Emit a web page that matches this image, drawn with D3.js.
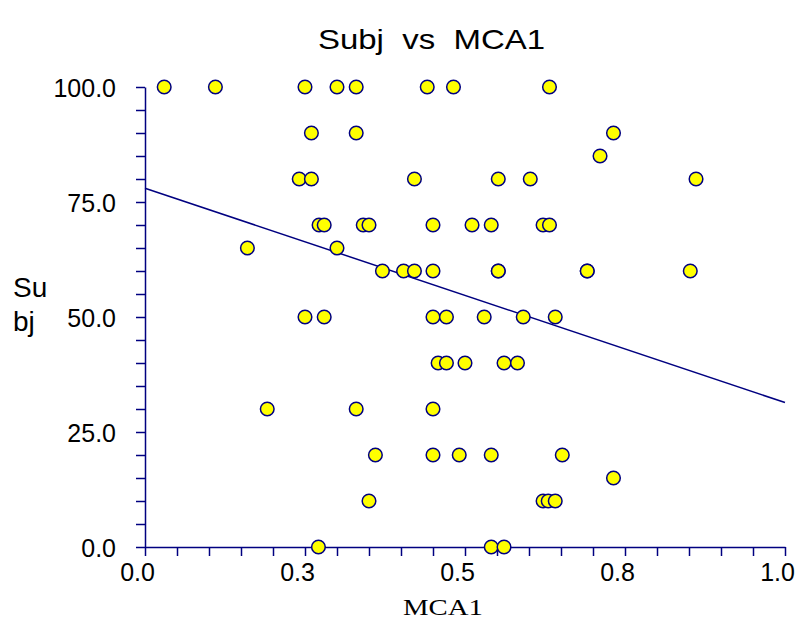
<!DOCTYPE html>
<html>
<head>
<meta charset="utf-8">
<title>Subj vs MCA1</title>
<script src="https://cdn.jsdelivr.net/npm/d3@7"></script>
<style>
body { margin: 0; background: #fff; }
.axis path, .axis line { stroke: #000080; stroke-width: 1.5px; fill: none; }
.axis text { font-family: "Liberation Sans", Arial, sans-serif; font-size: 25px; fill: #000; }
.dot { fill: #ffff00; stroke: #000080; stroke-width: 1.5px; }
</style>
</head>
<body>
<script>
// values
var mca1 = [0.030, 0.110, 0.250, 0.300, 0.330, 0.441, 0.482, 0.632,
  0.260, 0.330, 0.732,
  0.711,
  0.241, 0.260, 0.421, 0.552, 0.602, 0.861,
  0.272, 0.280, 0.341, 0.350, 0.450, 0.511, 0.541, 0.622, 0.632,
  0.160, 0.300,
  0.371, 0.404, 0.421, 0.450, 0.552, 0.552, 0.691, 0.691, 0.852,
  0.250, 0.280, 0.450, 0.471, 0.530, 0.591, 0.641,
  0.458, 0.471, 0.500, 0.561, 0.582,
  0.191, 0.330, 0.450,
  0.360, 0.450, 0.491, 0.541, 0.652,
  0.732,
  0.350, 0.622, 0.630, 0.641,
  0.271, 0.541, 0.561];
var subj = [100, 100, 100, 100, 100, 100, 100, 100,
  90, 90, 90,
  85,
  80, 80, 80, 80, 80, 80,
  70, 70, 70, 70, 70, 70, 70, 70, 70,
  65, 65,
  60, 60, 60, 60, 60, 60, 60, 60, 60,
  50, 50, 50, 50, 50, 50, 50,
  40, 40, 40, 40, 40,
  30, 30, 30,
  20, 20, 20, 20, 20,
  15,
  10, 10, 10, 10,
  0, 0, 0];
var fitLine = [[0, 78.0], [1, 31.4]];
var xTicks = d3.range(0, 21).map(function(i) { return i * 0.05; });
var yTicks = d3.range(0, 21).map(function(i) { return i * 5; });

var margin = { top: 87, right: 16, bottom: 74, left: 145 };
var width = 801 - margin.left - margin.right;
var height = 621 - margin.top - margin.bottom;

var svg = d3.select("body").append("svg")
    .attr("width", 801)
    .attr("height", 621);

var g = svg.append("g")
    .attr("transform", "translate(" + margin.left + "," + margin.top + ")");

var x = d3.scaleLinear().domain([0, 1]).range([0, width]);
var y = d3.scaleLinear().domain([0, 100]).range([height, 0]);

var xAxis = d3.axisBottom(x)
  .tickValues(xTicks)
  .tickSize(9)
  .tickSizeOuter(0)
  .tickPadding(7)
  .tickFormat(function(d, i) { return i % 5 == 0 ? d3.format(".1f")(d) : ""; });

var yAxis = d3.axisLeft(y)
  .tickValues(yTicks)
  .tickSize(9)
  .tickSizeOuter(0)
  .tickPadding(20)
  .tickFormat(function(d, i) { return i % 5 == 0 ? d3.format(".1f")(d) : ""; });

g.append("g")
  .attr("class", "x axis")
  .attr("transform", "translate(0," + height + ")")
  .call(xAxis);

g.append("g")
  .attr("class", "y axis")
  .call(yAxis);

g.selectAll(".y.axis .tick text").attr("dy", "0.38em");
g.selectAll(".x.axis .tick text").attr("dx", -8);

var line = d3.line()
  .x(function(d) { return x(d[0]); })
  .y(function(d) { return y(d[1]); });

g.append("path")
  .datum(fitLine)
  .attr("d", line)
  .attr("fill", "none")
  .attr("stroke", "#000080")
  .attr("stroke-width", 1.5);

g.selectAll("circle.dot")
  .data(mca1)
  .enter().append("circle")
  .attr("class", "dot")
  .attr("r", 6.8)
  .attr("cx", function(d) { return x(d); })
  .attr("cy", function(d, i) { return y(subj[i]); });

svg.append("text")
  .attr("x", 318)
  .attr("y", 49)
  .attr("textLength", 227)
  .attr("lengthAdjust", "spacingAndGlyphs")
  .attr("xml:space", "preserve")
  .style("font-family", "Liberation Sans, Arial, sans-serif")
  .style("font-size", "28px")
  .text("Subj  vs  MCA1");

svg.append("text")
  .attr("x", 403)
  .attr("y", 615)
  .attr("textLength", 80)
  .attr("lengthAdjust", "spacingAndGlyphs")
  .style("font-family", "Liberation Serif, Times New Roman, serif")
  .style("font-size", "23px")
  .text("MCA1");

var ylab = svg.append("text")
  .style("font-family", "Liberation Sans, Arial, sans-serif")
  .style("font-size", "28px");
ylab.append("tspan").attr("x", 13).attr("y", 297).text("Su");
ylab.append("tspan").attr("x", 13).attr("y", 331).text("bj");
</script>
</body>
</html>
